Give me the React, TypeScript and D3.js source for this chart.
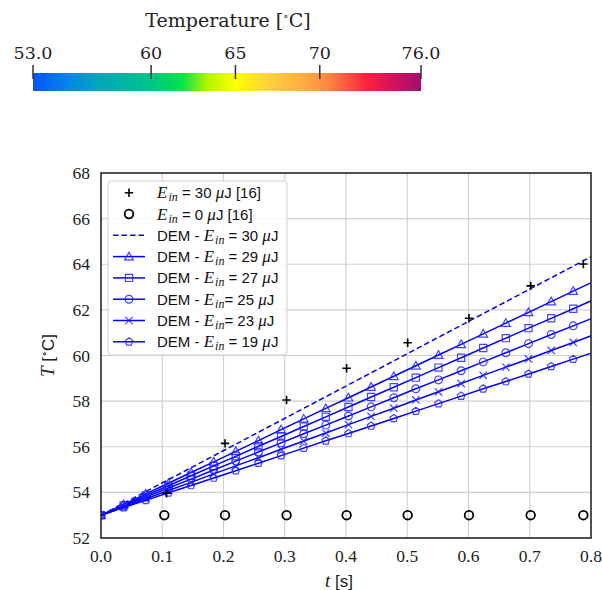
import React from 'react';
import * as d3 from 'd3';

// ---------- DATA ----------
const tSim = [0, 0.037, 0.073, 0.110, 0.147, 0.184, 0.220, 0.257, 0.294, 0.331, 0.367, 0.404, 0.441, 0.478, 0.514, 0.551, 0.588, 0.624, 0.661, 0.698, 0.735, 0.771, 0.808];
const T29 = [53.00, 53.47, 53.93, 54.40, 54.87, 55.34, 55.80, 56.27, 56.75, 57.22, 57.68, 58.15, 58.62, 59.09, 59.55, 60.02, 60.49, 60.95, 61.42, 61.89, 62.36, 62.82, 63.29];
const T27 = [53.00, 53.43, 53.86, 54.29, 54.73, 55.16, 55.58, 56.02, 56.45, 56.89, 57.31, 57.74, 58.18, 58.61, 59.03, 59.47, 59.90, 60.33, 60.76, 61.20, 61.63, 62.05, 62.49];
const T25 = [53.00, 53.40, 53.79, 54.19, 54.58, 54.98, 55.37, 55.77, 56.17, 56.57, 56.95, 57.35, 57.75, 58.15, 58.54, 58.93, 59.33, 59.72, 60.12, 60.52, 60.92, 61.30, 61.70];
const T23 = [53.00, 53.36, 53.72, 54.08, 54.44, 54.81, 55.16, 55.52, 55.89, 56.25, 56.60, 56.97, 57.33, 57.69, 58.05, 58.41, 58.77, 59.13, 59.49, 59.85, 60.22, 60.57, 60.94];
const T19 = [53.00, 53.33, 53.65, 53.98, 54.30, 54.63, 54.95, 55.28, 55.61, 55.94, 56.26, 56.58, 56.91, 57.24, 57.56, 57.89, 58.22, 58.54, 58.86, 59.19, 59.52, 59.84, 60.17];
const tDem30 = [0, 0.4, 0.808];
const TDem30 = [53.0, 58.66, 64.44];
const tExp30 = [0.107, 0.2025, 0.303, 0.401, 0.5007, 0.6008, 0.7015, 0.7875];
const TExp30 = [53.96, 56.15, 58.05, 59.44, 60.56, 61.63, 63.05, 64.01];
const tExp0 = [0.1034, 0.2025, 0.303, 0.401, 0.5007, 0.6008, 0.7015, 0.7875];
const TExp0 = [53.0, 53.0, 53.0, 53.0, 53.0, 53.0, 53.0, 53.0];
const simEnergies = ['29', '27', '25', '23', '19'];
const simMarkers = ['triangle', 'square', 'circle', 'x', 'pentagon'];
const xTicks = [0, 0.1, 0.2, 0.3, 0.4, 0.5, 0.6, 0.7, 0.8];
const yTicks = [52, 54, 56, 58, 60, 62, 64, 66, 68];
const cbTicks = [53, 60, 65, 70, 76];
const cbTickLabels = ['53.0', '60', '65', '70', '76.0'];
const cbStopValues = [53, 55, 57, 60, 61.8, 63.3, 65, 67, 69, 70.5, 72.8, 74.5, 76];
const cbStopColors = ['#0553ff', '#0385e8', '#00a8b8', '#00c486', '#00e448', '#b0f400', '#ffff00', '#ffd03e', '#ffae40', '#ff8840', '#ff2040', '#d01060', '#a0106a'];

// ---------- LAYOUT ----------
const W = 602, H = 590;
const plot = { left: 101, right: 591, top: 173, bottom: 538 };
const cb = { left: 33, right: 421, top: 73, bottom: 91 };
const BLUE = '#0000ff';
const SERIF = "'Liberation Serif', 'DejaVu Serif', serif";
const SANS = "'Liberation Sans', Arial, sans-serif";

function markerPath(kind: string, r: number): string {
  switch (kind) {
    case 'triangle': {
      return `M0,${-r}L${r},${r * 0.75}L${-r},${r * 0.75}Z`;
    }
    case 'square':
      return `M${-r},${-r}H${r}V${r}H${-r}Z`;
    case 'circle':
      return `M${r},0A${r},${r} 0 1,1 ${-r},0A${r},${r} 0 1,1 ${r},0Z`;
    case 'x':
      return `M${-r},${-r}L${r},${r}M${-r},${r}L${r},${-r}`;
    case 'pentagon': {
      const pts = d3.range(5).map(i => {
        const a = -Math.PI / 2 + (i * 2 * Math.PI) / 5;
        return [r * Math.cos(a), r * Math.sin(a)];
      });
      return 'M' + pts.map(p => p[0].toFixed(2) + ',' + p[1].toFixed(2)).join('L') + 'Z';
    }
    case 'plus':
      return `M${-r},0H${r}M0,${-r}V${r}`;
  }
  return '';
}
const markerSize: Record<string, number> = { triangle: 4.4, square: 3.6, circle: 3.9, x: 3.7, pentagon: 4.0 };

function Ein(props: { pre?: string; val: string; post: string; tight?: boolean }) {
  return (
    <>
      {props.pre ? <tspan>{props.pre}</tspan> : null}
      <tspan fontFamily={SERIF} fontStyle="italic" fontSize={17}>E</tspan>
      <tspan fontFamily={SERIF} fontStyle="italic" fontSize={12} dx={1} dy={3}>in</tspan>
      <tspan dy={-3}>{(props.tight ? '' : ' ') + '= ' + props.val + ' '}</tspan>
      <tspan fontFamily={SERIF} fontStyle="italic" fontSize={17}>μ</tspan>
      <tspan>{props.post}</tspan>
    </>
  );
}

export default function App() {
  const x = d3.scaleLinear().domain([0, 0.8]).range([plot.left, plot.right]);
  const y = d3.scaleLinear().domain([52, 68]).range([plot.bottom, plot.top]);
  const cbScale = d3.scaleLinear().domain([53, 76]).range([cb.left, cb.right]);
  const line = d3.line<[number, number]>().x(d => x(d[0])).y(d => y(d[1]));

  const simSeries = [T29, T27, T25, T23, T19];

  const legendX = 108, legendY = 181, rowH = 21.3;
  const rowY = (i: number) => 192.7 + i * rowH;
  const hx0 = 113, hx1 = 145, hxc = 129, tx = 157;

  return (
    <svg width={W} height={H} style={{ position: 'absolute', left: 0, top: 0, background: '#fff' }}>
      <defs>
        <linearGradient id="cbgrad" x1="0" x2="1" y1="0" y2="0">
          {cbStopValues.map((v, i) => (
            <stop key={i} offset={(v - 53) / (76 - 53)} stopColor={cbStopColors[i]} />
          ))}
        </linearGradient>
        <clipPath id="plotclip">
          <rect x={plot.left} y={plot.top} width={plot.right - plot.left} height={plot.bottom - plot.top} />
        </clipPath>
      </defs>
      <rect width={W} height={H} fill="#fff" />

      {/* Colorbar */}
      <text x={228} y={27} textAnchor="middle" fontFamily="'DejaVu Serif', serif" fontSize={19} fill="#222">
        Temperature [<tspan fontSize={11} dy={-7}>∘</tspan><tspan dy={7}>C]</tspan>
      </text>
      <rect x={cb.left} y={cb.top} width={cb.right - cb.left} height={cb.bottom - cb.top} fill="url(#cbgrad)" />
      {cbTicks.map((v, i) => (
        <g key={i}>
          <line x1={cbScale(v)} x2={cbScale(v)} y1={65} y2={79} stroke="#333" strokeWidth={1.5} />
          <text x={cbScale(v)} y={59} textAnchor="middle" fontFamily="'DejaVu Serif', serif" fontSize={17.5} fill="#222">{cbTickLabels[i]}</text>
        </g>
      ))}

      {/* Grid */}
      {xTicks.slice(1, -1).map((v, i) => (
        <line key={'gx' + i} x1={x(v)} x2={x(v)} y1={plot.top} y2={plot.bottom} stroke="#cfcfcf" strokeWidth={1.1} />
      ))}
      {yTicks.slice(1, -1).map((v, i) => (
        <line key={'gy' + i} x1={plot.left} x2={plot.right} y1={y(v)} y2={y(v)} stroke="#cfcfcf" strokeWidth={1.1} />
      ))}

      <g clipPath="url(#plotclip)">
        {/* DEM 30 dashed */}
        <path d={line(tDem30.map((t, i) => [t, TDem30[i]]) as any) || ''} fill="none" stroke={BLUE} strokeWidth={1.5} strokeDasharray="5.5,3" />
        {simSeries.map((s, k) => {
          const pts = tSim.map((t, i) => [t, s[i]] as [number, number]);
          const kind = simMarkers[k];
          return (
            <g key={'s' + k}>
              <path d={line(pts) || ''} fill="none" stroke={BLUE} strokeWidth={1.5} />
              {pts.map((p, i) => (
                <path key={i} d={markerPath(kind, markerSize[kind])} transform={`translate(${x(p[0])},${y(p[1])})`} fill="none" stroke="#2222ff" strokeOpacity={0.85} strokeWidth={1.2} />
              ))}
            </g>
          );
        })}
        {/* Experimental */}
        {tExp30.map((t, i) => (
          <path key={'p' + i} d={markerPath('plus', 4.2)} transform={`translate(${x(t)},${y(TExp30[i])})`} stroke="#000" strokeWidth={1.6} fill="none" />
        ))}
        {tExp0.map((t, i) => (
          <circle key={'c' + i} cx={x(t)} cy={y(TExp0[i])} r={4.3} stroke="#000" strokeWidth={1.8} fill="none" />
        ))}
      </g>

      {/* Frame */}
      <rect x={plot.left} y={plot.top} width={plot.right - plot.left} height={plot.bottom - plot.top} fill="none" stroke="#262626" strokeWidth={1.6} />

      {/* Tick labels */}
      {xTicks.map((v, i) => (
        <text key={'xt' + i} x={x(v)} y={562} textAnchor="middle" fontFamily={SERIF} fontSize={17.5} fill="#222">{v.toFixed(1)}</text>
      ))}
      {yTicks.map((v, i) => (
        <text key={'yt' + i} x={90} y={y(v) + 6} textAnchor="end" fontFamily={SERIF} fontSize={17.5} fill="#222">{v}</text>
      ))}

      {/* Axis labels */}
      <text x={339} y={587} textAnchor="middle" fontFamily={SANS} fontSize={17} fill="#222">
        <tspan fontFamily={SERIF} fontStyle="italic" fontSize={19}>t</tspan> [s]
      </text>
      <text transform={`translate(54,${(plot.top + plot.bottom) / 2}) rotate(-90)`} textAnchor="middle" fontFamily={SANS} fontSize={17} fill="#222">
        <tspan fontFamily={SERIF} fontStyle="italic" fontSize={19}>T</tspan> [<tspan fontSize={10} dy={-7}>∘</tspan><tspan dy={7}>C]</tspan>
      </text>

      {/* Legend */}
      <rect x={legendX} y={legendY} width={179} height={174} rx={3} fill="#fff" fillOpacity={0.85} stroke="#d0d0d0" strokeWidth={1} />
      <path d={markerPath('plus', 4.2)} transform={`translate(${hxc},${rowY(0)})`} stroke="#000" strokeWidth={1.6} fill="none" />
      <circle cx={hxc} cy={rowY(1)} r={4.3} stroke="#000" strokeWidth={1.8} fill="none" />
      <line x1={hx0} x2={hx1} y1={rowY(2)} y2={rowY(2)} stroke={BLUE} strokeWidth={1.5} strokeDasharray="5.5,3" />
      {simMarkers.map((kind, k) => (
        <g key={'lg' + k}>
          <line x1={hx0} x2={hx1} y1={rowY(3 + k)} y2={rowY(3 + k)} stroke={BLUE} strokeWidth={1.5} />
          <path d={markerPath(kind, markerSize[kind])} transform={`translate(${hxc},${rowY(3 + k)})`} fill="none" stroke="#2222ff" strokeOpacity={0.85} strokeWidth={1.2} />
        </g>
      ))}
      <g fontFamily={SANS} fontSize={15} fill="#111">
        <text x={tx} y={rowY(0) + 5.5}><Ein val="30" post="J [16]" /></text>
        <text x={tx} y={rowY(1) + 5.5}><Ein val="0" post="J [16]" /></text>
        <text x={tx} y={rowY(2) + 5.5}><Ein pre="DEM - " val="30" post="J" /></text>
        {simEnergies.map((e, k) => (
          <text key={'lt' + k} x={tx} y={rowY(3 + k) + 5.5}>
            <Ein pre="DEM - " val={e} post="J" tight={e === '25' || e === '23'} />
          </text>
        ))}
      </g>
    </svg>
  );
}
